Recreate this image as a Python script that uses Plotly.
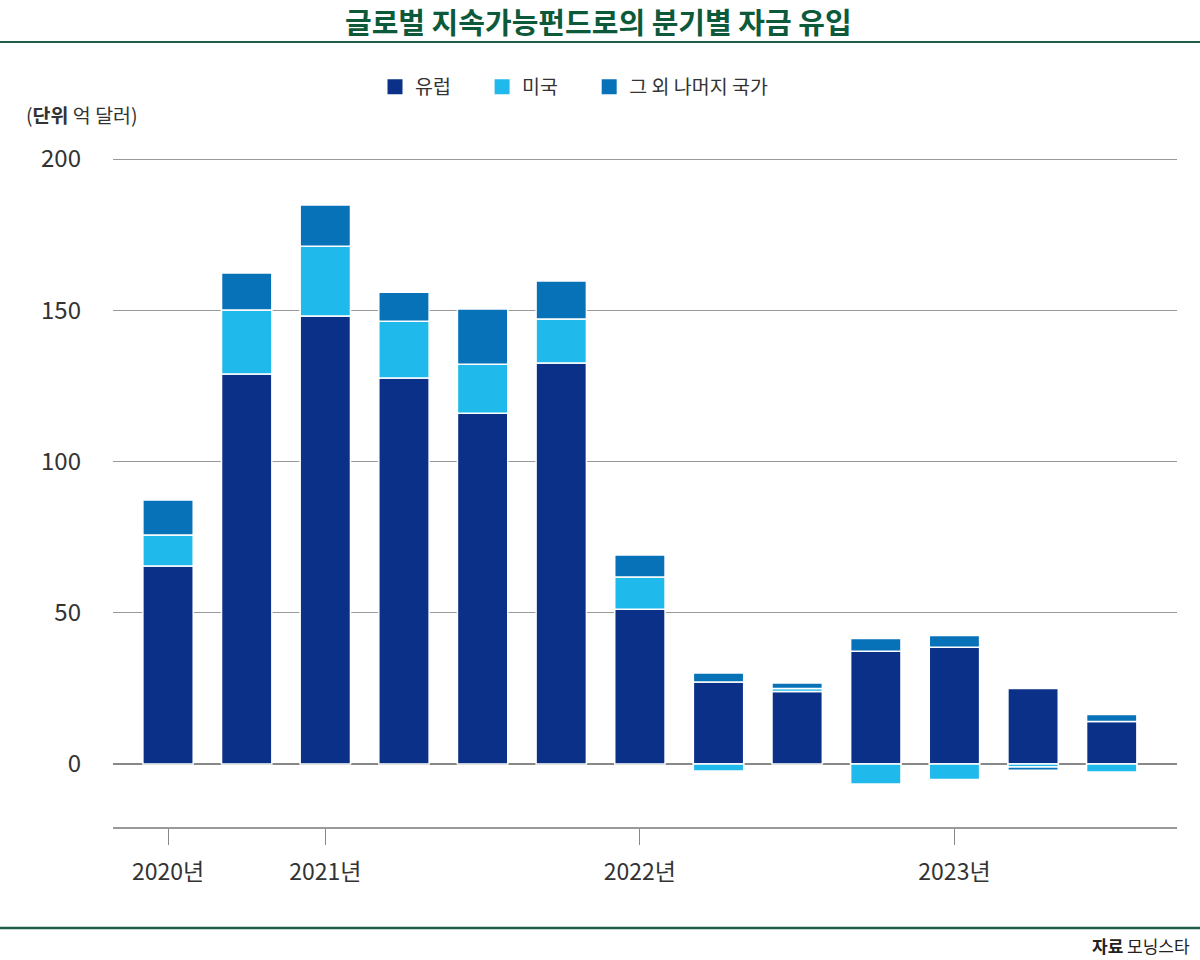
import plotly.graph_objects as go

# Quarterly positions (2020 Q3 .. 2023 Q3)
quarters = list(range(1, 14))
year_tick_pos = [1, 3, 7, 11]
year_labels = ["2020년", "2021년", "2022년", "2023년"]

europe = [65.5, 128.9, 148.1, 127.6, 116.0, 132.6, 51.2, 27.1, 24.0, 37.3, 38.6, 25.0, 14.1]
usa = [10.2, 21.2, 23.1, 18.8, 16.2, 14.5, 10.6, -2.3, 1.0, -6.6, -5.1, -1.0, -2.6]
others = [11.6, 12.2, 13.6, 9.6, 18.2, 12.6, 7.3, 3.0, 1.8, 4.2, 3.9, -1.0, 2.3]

series_names = ["유럽", "미국", "그 외 나머지 국가"]
colors = ["#0a3187", "#1fb9eb", "#0872b9"]

KR = "Noto Sans CJK KR"
NUM = "Liberation Sans Narrow, Noto Sans CJK KR, sans-serif"
PAD = "\u00a0" * 6

fig = go.Figure()
for name, vals, col in zip(series_names, [europe, usa, others], colors):
    fig.add_trace(go.Bar(
        x=quarters, y=vals, name=name, showlegend=False,
        marker=dict(color=col, line=dict(color="white", width=1.5)),
    ))
# legend entries with larger square swatches
for i, (name, col) in enumerate(zip(series_names, colors)):
    fig.add_trace(go.Scatter(
        x=[None], y=[None], mode="markers", name=name + (PAD if i < 2 else ""),
        marker=dict(symbol="square", size=15, color=col),
        showlegend=True, hoverinfo="skip",
    ))

# plot area in pixels: left 113, right 1177, top 156, bottom 827
L, R, T, B = 113, 1177, 156, 827
W, H = R - L, B - T

def px(x):
    return (x - L) / W

def py(y):
    return (B - y) / H

fig.update_layout(
    width=1200, height=960,
    barmode="relative",
    bargap=0.36,
    plot_bgcolor="white", paper_bgcolor="white",
    margin=dict(l=L, r=1200 - R, t=T, b=960 - B, pad=0),
    font=dict(family=KR, color="#333333"),
    showlegend=True,
    legend=dict(
        orientation="h", x=px(375), y=py(87), xanchor="left", yanchor="middle",
        font=dict(family=KR, size=19.5, color="#333333"),
        itemsizing="trace", traceorder="normal", itemwidth=30,
        bgcolor="rgba(0,0,0,0)",
    ),
    xaxis=dict(
        range=[0.30, 13.83],
        tickmode="array", tickvals=year_tick_pos, ticktext=year_labels,
        ticks="outside", ticklen=16, tickcolor="#888888", tickwidth=1,
        showline=True, linecolor="#999999", linewidth=1.5,
        showgrid=False, zeroline=False,
        tickfont=dict(family=NUM, size=23, color="#333333"),
        ticklabelstandoff=8,
        fixedrange=True,
    ),
    yaxis=dict(
        range=[-20.8, 201.0],
        tickmode="array", tickvals=[0, 50, 100, 150, 200],
        showgrid=True, gridcolor="#999999", gridwidth=1,
        zeroline=True, zerolinecolor="#888888", zerolinewidth=1.5,
        showline=False,
        ticks="", ticklabelstandoff=31,
        tickfont=dict(family=NUM, size=24, color="#333333"),
        fixedrange=True,
    ),
    annotations=[
        dict(text="<b>글로벌 지속가능펀드로의 분기별 자금 유입</b>",
             x=px(598), y=py(21), xref="paper", yref="paper",
             xanchor="center", yanchor="middle", showarrow=False,
             font=dict(family=KR, size=29, color="#0d5a3b")),
        dict(text="(<b>단위</b> 억 달러)",
             x=px(24), y=py(114), xref="paper", yref="paper",
             xanchor="left", yanchor="middle", showarrow=False,
             font=dict(family=KR, size=19.5, color="#333333")),
        dict(text="<b>자료</b> 모닝스타",
             x=px(1192), y=py(945), xref="paper", yref="paper",
             xanchor="right", yanchor="middle", showarrow=False,
             font=dict(family=KR, size=17, color="#222222")),
    ],
    shapes=[
        dict(type="line", xref="paper", yref="paper",
             x0=px(0), x1=px(1200), y0=py(42), y1=py(42),
             line=dict(color="#1f5f47", width=2)),
        dict(type="line", xref="paper", yref="paper",
             x0=px(0), x1=px(1200), y0=py(928), y1=py(928),
             line=dict(color="#1f5f47", width=2.5)),
    ],
)

fig.write_html(
    "out.html",
    config={"displayModeBar": False},
    post_script="document.body.style.margin='0';document.body.style.padding='0';",
)
